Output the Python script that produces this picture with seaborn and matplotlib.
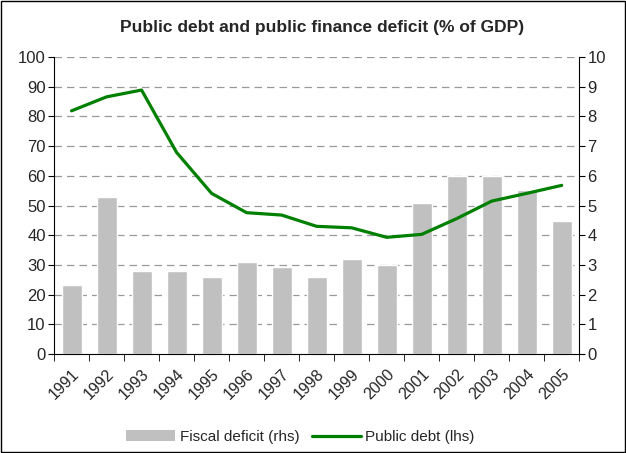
import numpy as np
import pandas as pd
import matplotlib
matplotlib.use("Agg")
import matplotlib.pyplot as plt
import seaborn as sns
from matplotlib.patches import Patch, Rectangle
from matplotlib.lines import Line2D
from matplotlib import font_manager

years = ["1991", "1992", "1993", "1994", "1995", "1996", "1997", "1998",
         "1999", "2000", "2001", "2002", "2003", "2004", "2005"]
fiscal_deficit = [2.32, 5.29, 2.8, 2.8, 2.6, 3.1, 2.93, 2.6, 3.2, 3.0, 5.08, 6.0, 6.0, 5.52, 4.48]
public_debt = [81.9, 86.6, 88.9, 67.9, 54.1, 47.6, 46.8, 43.0, 42.5, 39.3, 40.3, 45.6, 51.5, 54.1, 56.8]
left_ticks = list(range(0, 101, 10))
right_ticks = list(range(0, 11, 1))

sns.set_style("white")
names = {f.name for f in font_manager.fontManager.ttflist}
narrow = 'Liberation Sans Narrow' if 'Liberation Sans Narrow' in names else 'Liberation Sans'
plt.rcParams['font.family'] = [narrow, 'DejaVu Sans']

fig = plt.figure(figsize=(6.26, 4.53), dpi=100)
ax = fig.add_axes([0.0863, 0.2185, 0.839, 0.6555])

df = pd.DataFrame({"year": years, "deficit": fiscal_deficit, "debt": public_debt})

# bars on primary axis (right scale)
sns.barplot(data=df, x="year", y="deficit", color="#C0C0C0", saturation=1,
            width=0.57, ax=ax, zorder=2)
ax.set_ylim(0, 10)
ax.set_yticks(right_ticks)
ax.set_xlim(-0.5, len(years) - 0.5)
ax.set_xlabel("")
ax.set_ylabel("")
for y in right_ticks[1:]:
    ax.axhline(y, color="#999999", lw=0.9, ls=(0, (6, 4)), zorder=0)

ax2 = ax.twinx()
sns.lineplot(x=np.arange(len(years)), y=df["debt"], color="#008000", lw=2.3, ax=ax2)
ax2.set_ylim(0, 100)
ax2.set_yticks(left_ticks)
ax2.set_xlim(-0.5, len(years) - 0.5)
ax2.set_ylabel("")

for a in (ax, ax2):
    for s in a.spines.values():
        s.set_visible(False)
ax2.spines['left'].set_visible(True)
ax2.spines['left'].set_color("black")
ax.spines['right'].set_visible(True)
ax.spines['right'].set_color("black")
ax.spines['bottom'].set_visible(True)
ax.spines['bottom'].set_color("black")

ax.tick_params(axis='y', right=True, left=False, labelright=True, labelleft=False,
               length=4, color='black', labelsize=12, pad=2)
ax2.tick_params(axis='y', left=True, right=False, labelleft=True, labelright=False,
                length=4, color='black', labelsize=12, pad=2)

# x ticks: marks at boundaries, labels at centers
ax.set_xticks(np.arange(len(years)))
ax.set_xticklabels(years, rotation=45, ha='right', rotation_mode='anchor', fontsize=11.5)
ax.tick_params(axis='x', which='major', length=0, pad=9)
ax.set_xticks(np.arange(-0.5, len(years), 1), minor=True)
ax.tick_params(axis='x', which='minor', length=5, color='black', bottom=True)

fig.suptitle("Public debt and public finance deficit (% of GDP)", x=0.515, y=0.955,
             fontsize=12.5, fontweight='bold', family=['Liberation Sans', 'DejaVu Sans'])

handles = [Patch(facecolor="#C0C0C0", edgecolor="none", label="Fiscal deficit (rhs)"),
           Line2D([0], [0], color="#008000", lw=2.3, label="Public debt (lhs)")]
fig.legend(handles=handles, loc='center', bbox_to_anchor=(0.48, 0.035), ncol=2,
           frameon=False, fontsize=11, handlelength=3.2, handletextpad=0.3,
           columnspacing=0.8)

fig.patches.append(Rectangle((0.002, 0.002), 0.996, 0.996, transform=fig.transFigure,
                             fill=False, edgecolor='black', lw=1))

fig.savefig("out.png", dpi=100)
